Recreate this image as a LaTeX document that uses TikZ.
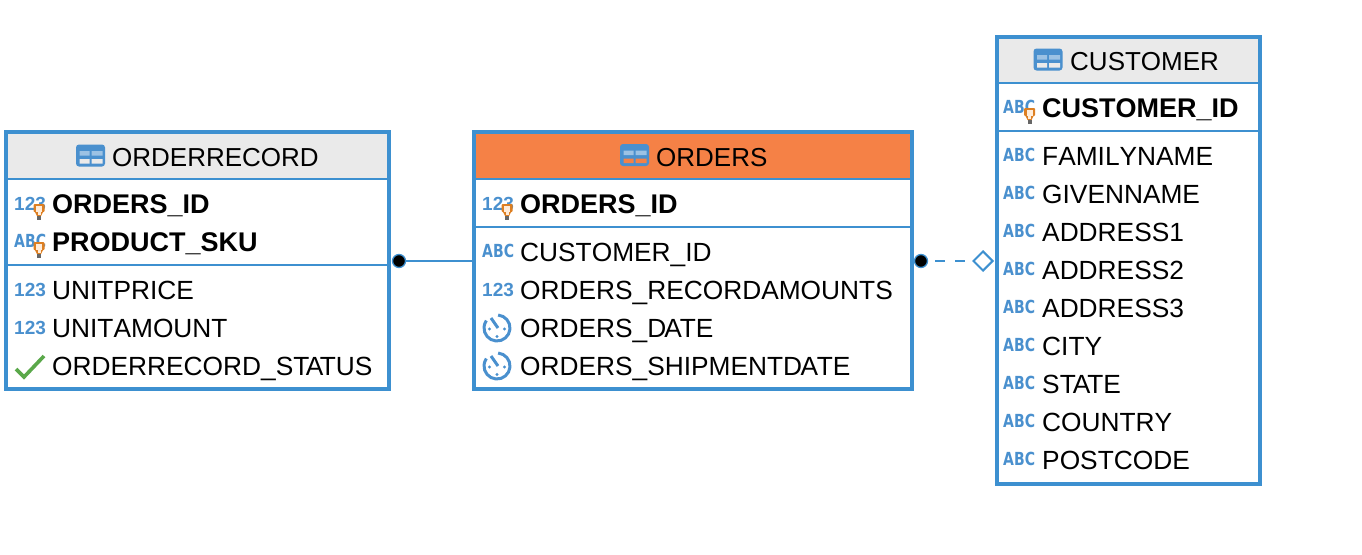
\documentclass[tikz,border=0pt]{standalone}
\usepackage{xcolor}
\usepackage{fontspec}
\setmainfont[Kerning=Off]{Liberation Sans}
\newfontfamily\abcfont[FakeStretch=0.78]{DejaVu Sans}
\usetikzlibrary{positioning, shapes.geometric}
\definecolor{frameblue}{HTML}{3D90D0}
\definecolor{iconblue}{HTML}{4A90CE}
\definecolor{headgrey}{HTML}{EAEAEA}
\definecolor{headorange}{HTML}{F58146}
\definecolor{keyorange}{HTML}{DD7F22}
\definecolor{checkgreen}{HTML}{5AA84A}

\begin{document}
\begin{tikzpicture}[
    x=1pt, y=-1pt,
    tablebox/.style={rectangle, draw=frameblue, line width=4pt, inner sep=0pt},
    divider/.style={draw=frameblue, line width=2pt},
    title/.style={anchor=base west, inner sep=0pt, font=\fontsize{26}{30}\selectfont},
    field/.style={anchor=base west, inner sep=0pt, font=\fontsize{26.3}{30}\selectfont},
    keyfield/.style={field, font=\fontsize{27}{30}\selectfont\bfseries},
    numtype/.style={anchor=base west, inner sep=0pt, text=iconblue, font=\fontsize{19}{20}\selectfont\bfseries},
    abctype/.style={anchor=base west, inner sep=0pt, text=iconblue, font=\abcfont\fontsize{18}{20}\selectfont\bfseries},
    dotend/.style={circle, fill=black, draw=frameblue, line width=1.3pt, minimum size=13pt, inner sep=0pt},
    diamondend/.style={diamond, draw=frameblue, fill=white, line width=2pt, minimum size=20pt, inner sep=0pt},
    link/.style={draw=frameblue, line width=2pt},
    pics/tableicon/.style={code={
      \fill[iconblue, rounded corners=3pt] (-14.5,-11) rectangle (14.5,11);
      \fill[iconblue!55!white] (-11,-4.5) rectangle (-1,0) (1,-4.5) rectangle (12,0);
      \fill[#1] (-11,3.5) rectangle (-1,8) (1,3.5) rectangle (12,8);
    }},
    keyicon/.pic={
      \fill[keyorange, rounded corners=1pt] (-5.5,0) rectangle (5.5,8);
      \fill[white!85!orange] (-3,2) rectangle (3,8);
      \fill[keyorange] (-4,8) -- (4,8) -- (2,12) -- (-2,12) -- cycle;
      \fill[white!85!orange] (-1.5,8) rectangle (1.5,11);
      \fill[gray!80!black] (-2,12) rectangle (2,16);
    },
    clockicon/.pic={
      \draw[iconblue, line width=3pt] (-85:13) arc (-85:215:13);
      \draw[iconblue, line width=3pt] (-6,-10) -- (1,0);
      \fill[iconblue] (7.5,1) circle (1.7) (0,8.5) circle (1.7) (-7.5,1) circle (1.7);
    },
    checkicon/.pic={
      \draw[checkgreen, line width=3.6pt] (-11,3) -- (-3,11) -- (17,-10);
    }
  ]
    \useasboundingbox (0,0) rectangle (1362,554);

    % Header bands
    \fill[headgrey] (6,132) rectangle (389,179);
    \fill[headorange] (474,132) rectangle (912,179);
    \fill[headgrey] (997,37) rectangle (1260,83);

    % Tables
    \node[tablebox, minimum width=383pt, minimum height=257pt] (orderrecord) at (197.5,260.5) {};
    \node[tablebox, minimum width=438pt, minimum height=257pt] (orders) at (693,260.5) {};
    \node[tablebox, minimum width=263pt, minimum height=447pt] (customer) at (1128.5,260.5) {};

    % Dividers
    \draw[divider] (6,179) -- (389,179) (6,265) -- (389,265);
    \draw[divider] (474,179) -- (912,179) (474,227) -- (912,227);
    \draw[divider] (997,83) -- (1260,83) (997,131) -- (1260,131);

    % Titles
    \pic at (90.5,155.5) {tableicon=headgrey};
    \node[title] (orderrecordtitle) at (112,166) {ORDERRECORD};
    \pic at (634.5,155) {tableicon=headorange};
    \node[title] (orderstitle) at (656,166) {ORDERS};
    \pic at (1048,59.5) {tableicon=headgrey};
    \node[title] (customertitle) at (1070,70) {CUSTOMER};

    % ORDERRECORD fields
    \node[numtype] (rectype1) at (14,210) {123};
    \pic at (39,204) {keyicon};
    \node[keyfield] (recfield1) at (52,213.5) {ORDERS\_ID};
    \node[abctype] (rectype2) at (14,247) {ABC};
    \pic at (39,242) {keyicon};
    \node[keyfield] (recfield2) at (52,251.5) {PRODUCT\_SKU};
    \foreach \y/\name in {290/UNITPRICE, 328/UNITAMOUNT} {
      \node[numtype] (rectype\y) at (14,\y+6.5) {123};
      \node[field] (recfield\y) at (52,\y+9.5) {\name};
    }
    \pic at (27,366) {checkicon};
    \node[field] (recstatus) at (52,375.5) {ORDERRECORD\_ST\kern-3.5pt A\kern-3.5pt TUS};

    % ORDERS fields
    \node[numtype] (ordtype1) at (482,210) {123};
    \pic at (507,204) {keyicon};
    \node[keyfield] (ordfield1) at (520,213.5) {ORDERS\_ID};
    \node[abctype] (ordtype2) at (482,257) {ABC};
    \node[field] (ordfield2) at (520,261.5) {CUSTOMER\_ID};
    \node[numtype] (ordtype3) at (482,296.5) {123};
    \node[field] (ordfield3) at (520,299.5) {ORDERS\_RECORDAMOUNTS};
    \foreach \y/\name in {328/ORDERS\_D\kern-2pt A\kern-2pt TE, 366/ORDERS\_SHIPMENTD\kern-1.5pt A\kern-1.5pt TE} {
      \pic at (497,\y) {clockicon};
      \node[field] (ordfield\y) at (520,\y+9.5) {\name};
    }

    % CUSTOMER fields
    \node[abctype] (custtype1) at (1003,113) {ABC};
    \pic at (1029.5,108) {keyicon};
    \node[keyfield] (custfield1) at (1042,117.5) {CUSTOMER\_ID};
    \foreach \y/\name in {156/FAMILYNAME, 194/GIVENNAME, 232/ADDRESS1, 270/ADDRESS2,
                          308/ADDRESS3, 346/CITY, 384/ST\kern-3pt A\kern-3pt TE, 422/COUNTRY, 460/POSTCODE} {
      \node[abctype] (custtype\y) at (1003,\y+5) {ABC};
      \node[field] (custfield\y) at (1042,\y+9.5) {\name};
    }

    % Connectors
    \node[dotend] (recorddot) at (399,261) {};
    \node[dotend] (ordersdot) at (921,261) {};
    \node[diamondend] (customerdiamond) at (983,261) {};
    \draw[link] (recorddot) -- (recorddot -| orders.west);
    \draw[link, dash pattern=on 10pt off 10pt, dash phase=13pt] (ordersdot) -- (customerdiamond);
  \end{tikzpicture}
\end{document}
